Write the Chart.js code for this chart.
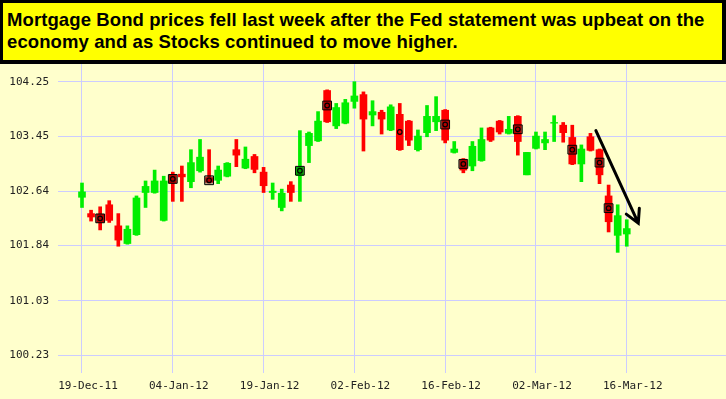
<!DOCTYPE html>
<html>
<head>
<meta charset="utf-8">
<script src="https://cdn.jsdelivr.net/npm/chart.js@4.4.1/dist/chart.umd.min.js"></script>
<style>
  body { margin:0; background:#ffffcc; width:726px; height:399px; overflow:hidden; position:relative; }
  #title {
    position:absolute; left:0; top:0; width:726px; height:64px; box-sizing:border-box; z-index:2;
    background:#ffff00; border:3px solid #000; border-right-width:4px; border-bottom-width:4px;
    font-family:"Liberation Sans", Arial, sans-serif; font-weight:bold; font-size:18.5px; letter-spacing:0.1px;
    line-height:22px; padding:6px 0 0 4px; color:#000; white-space:nowrap;
  }
  #wrap { position:absolute; left:0; top:64px; width:726px; height:335px; }
</style>
</head>
<body>
<div id="title">Mortgage Bond prices fell last week after the Fed statement was upbeat on the<br>economy and as Stocks continued to move higher.</div>
<div id="wrap"><canvas id="chart" width="726" height="335"></canvas></div>
<script>
// trading days shown on the chart
const dates = ['19-Dec-11','20-Dec-11','21-Dec-11','22-Dec-11','23-Dec-11','27-Dec-11','28-Dec-11','29-Dec-11','30-Dec-11',
  '03-Jan-12','04-Jan-12','05-Jan-12','06-Jan-12','09-Jan-12','10-Jan-12','11-Jan-12','12-Jan-12','13-Jan-12','17-Jan-12',
  '18-Jan-12','19-Jan-12','20-Jan-12','23-Jan-12','24-Jan-12','25-Jan-12','26-Jan-12','27-Jan-12','30-Jan-12','31-Jan-12',
  '01-Feb-12','02-Feb-12','03-Feb-12','06-Feb-12','07-Feb-12','08-Feb-12','09-Feb-12','10-Feb-12','13-Feb-12','14-Feb-12',
  '15-Feb-12','16-Feb-12','17-Feb-12','21-Feb-12','22-Feb-12','23-Feb-12','24-Feb-12','27-Feb-12','28-Feb-12','29-Feb-12',
  '01-Mar-12','02-Mar-12','05-Mar-12','06-Mar-12','07-Mar-12','08-Mar-12','09-Mar-12','12-Mar-12','13-Mar-12','14-Mar-12',
  '15-Mar-12','16-Mar-12']

const openV = [102.55,102.31,102.30,102.44,102.13,101.87,102.00,102.62,102.62,102.21,
  102.88,102.89,102.78,102.94,102.84,102.80,102.86,103.25,102.98,103.15,
  102.92,102.62,102.40,102.73,102.87,103.31,103.38,104.12,103.60,103.64,
  103.96,104.06,103.76,103.80,103.54,103.77,103.67,103.25,103.50,103.66,
  103.83,103.21,103.11,103.01,103.09,103.57,103.67,103.49,103.74,102.88,
  103.27,103.35,103.64,103.61,103.43,103.04,103.44,103.25,102.57,101.99,102.01]
const highV = [102.76,102.36,102.41,102.50,102.31,102.13,102.57,102.79,102.95,102.86,
  102.92,103.01,103.25,103.40,103.25,103.01,103.06,103.40,103.29,103.18,
  102.99,102.76,102.67,102.78,103.53,103.51,103.81,104.13,103.93,103.99,
  104.25,104.10,103.97,103.83,103.91,103.93,103.68,103.54,103.90,104.03,
  103.84,103.37,103.12,103.37,103.57,103.58,103.68,103.74,103.75,103.21,
  103.51,103.51,103.75,103.65,103.61,103.32,103.49,103.26,102.73,102.44,102.22]
const lowV = [102.40,102.20,102.07,102.18,101.83,101.86,101.99,102.40,102.61,102.20,
  102.49,102.49,102.69,102.92,102.76,102.75,102.85,103.00,102.97,102.91,
  102.62,102.52,102.35,102.49,102.49,103.06,103.37,103.65,103.56,103.63,
  103.86,103.23,103.60,103.48,103.53,103.24,103.31,103.23,103.44,103.53,
  103.35,103.20,102.91,102.94,103.08,103.37,103.48,103.48,103.17,102.88,
  103.26,103.25,103.37,103.36,103.03,102.78,103.23,102.75,102.04,101.74,101.83]
const closeV = [102.63,102.26,102.18,102.21,101.92,102.08,102.54,102.71,102.79,102.79,
  102.76,102.85,103.06,103.14,102.77,102.95,103.05,103.17,103.11,102.96,
  102.72,102.64,102.61,102.62,102.99,103.49,103.67,103.66,103.87,103.94,
  104.04,103.70,103.81,103.70,103.88,103.25,103.39,103.45,103.74,103.74,
  103.39,103.26,102.95,103.30,103.40,103.39,103.51,103.55,103.37,103.21,
  103.45,103.40,103.65,103.50,103.04,103.26,103.24,102.88,102.19,102.28,102.09]

// boxed markers and the small circles on some candles
const markerIdx = [2,10,14,24,27,40,42,48,54,57,58]
const markerVal = [102.24,102.82,102.80,102.94,103.90,103.62,103.04,103.55,103.25,103.06,102.39]
const dotIdx = [2,10,14,24,27,35,40,42,48,54,57,58]
const dotVal = [102.24,102.82,102.80,102.94,103.90,103.51,103.62,103.04,103.55,103.25,103.06,102.39]

const xTickLabels = ['19-Dec-11','04-Jan-12','19-Jan-12','02-Feb-12','16-Feb-12','02-Mar-12','16-Mar-12']
const yTickValues = [100.23,101.03,101.84,102.64,103.45,104.25]

// the hand drawn arrow, in chart units (day index, price)
const arrowFrom = {x:56.6, y:103.53}
const arrowTo = {x:61.27, y:102.17}

const GREEN = '#00ee00'
const RED = '#ff0000'
const colors = openV.map((o,i)=> closeV[i] >= o ? GREEN : RED)

const arrowPlugin = {
  id:'arrow',
  afterDatasetsDraw(chart){
    const {ctx, scales:{x, y}} = chart
    const x1 = x.getPixelForValue(arrowFrom.x), y1 = y.getPixelForValue(arrowFrom.y)
    const x2 = x.getPixelForValue(arrowTo.x), y2 = y.getPixelForValue(arrowTo.y)
    const ang = Math.atan2(y1-y2, x1-x2)
    ctx.save()
    ctx.strokeStyle = '#000'
    ctx.lineWidth = 3
    ctx.lineCap = 'round'
    ctx.beginPath()
    ctx.moveTo(x1,y1); ctx.lineTo(x2,y2)
    ctx.moveTo(x2 + 15*Math.cos(ang-0.5), y2 + 15*Math.sin(ang-0.5)); ctx.lineTo(x2,y2)
    ctx.lineTo(x2 + 15*Math.cos(ang+0.5), y2 + 15*Math.sin(ang+0.5))
    ctx.stroke()
    ctx.restore()
  }
}

window.onload = ()=>{
  const ctx = document.getElementById('chart').getContext('2d')
  new Chart(ctx, {
    type:'bar',
    data:{
      datasets:[
        { type:'scatter', data: dotIdx.map((d,i)=>({x:d, y:dotVal[i]})), pointStyle:'circle', pointRadius:2.3,
          pointBackgroundColor:'rgba(0,0,0,0)', pointBorderColor:'#000', pointBorderWidth:1.2, order:0 },
        { type:'scatter', data: markerIdx.map((d,i)=>({x:d, y:markerVal[i]})), pointStyle:'rect', pointRadius:6.2,
          pointBackgroundColor:'rgba(0,0,0,0.3)', pointBorderColor:'#000', pointBorderWidth:1, order:1 },
        { data: dates.map((d,i)=>({x:i, y:[openV[i], closeV[i]]})), backgroundColor:colors,
          barThickness:7, grouped:false, borderWidth:0, order:2 },
        { data: dates.map((d,i)=>({x:i, y:[lowV[i], highV[i]]})), backgroundColor:colors,
          barThickness:3, grouped:false, borderWidth:0, order:3 }
      ]
    },
    options:{
      responsive:false,
      animation:false,
      plugins:{ legend:{display:false}, tooltip:{enabled:false} },
      layout:{ padding:0, autoPadding:false },
      scales:{
        x:{
          type:'linear', offset:false, min:-2.643, max:70.93,
          afterBuildTicks: s => { s.ticks = xTickLabels.map(l => ({value: dates.indexOf(l)})) },
          afterFit: s => { s.height = 26; s.paddingLeft = 0; s.paddingRight = 0 },
          grid:{ color:'#ccccff', drawTicks:false, offset:false },
          border:{ display:false },
          ticks:{ padding:7, labelOffset:6, color:'#222', maxRotation:0, autoSkip:false,
            font:{ family:'"DejaVu Sans Mono", monospace', size:11 },
            callback: v => dates[v] }
        },
        y:{
          min:99.966, max:104.51,
          afterBuildTicks: s => { s.ticks = yTickValues.map(v => ({value:v})) },
          afterFit: s => { s.width = 58; s.paddingTop = 0; s.paddingBottom = 0 },
          grid:{ color:'#ccccff', drawTicks:false },
          border:{ display:false },
          ticks:{ padding:9, color:'#222', font:{ family:'"DejaVu Sans Mono", monospace', size:11 },
            callback: v => v.toFixed(2) }
        }
      }
    },
    plugins:[arrowPlugin]
  })
}
</script>
</body>
</html>
